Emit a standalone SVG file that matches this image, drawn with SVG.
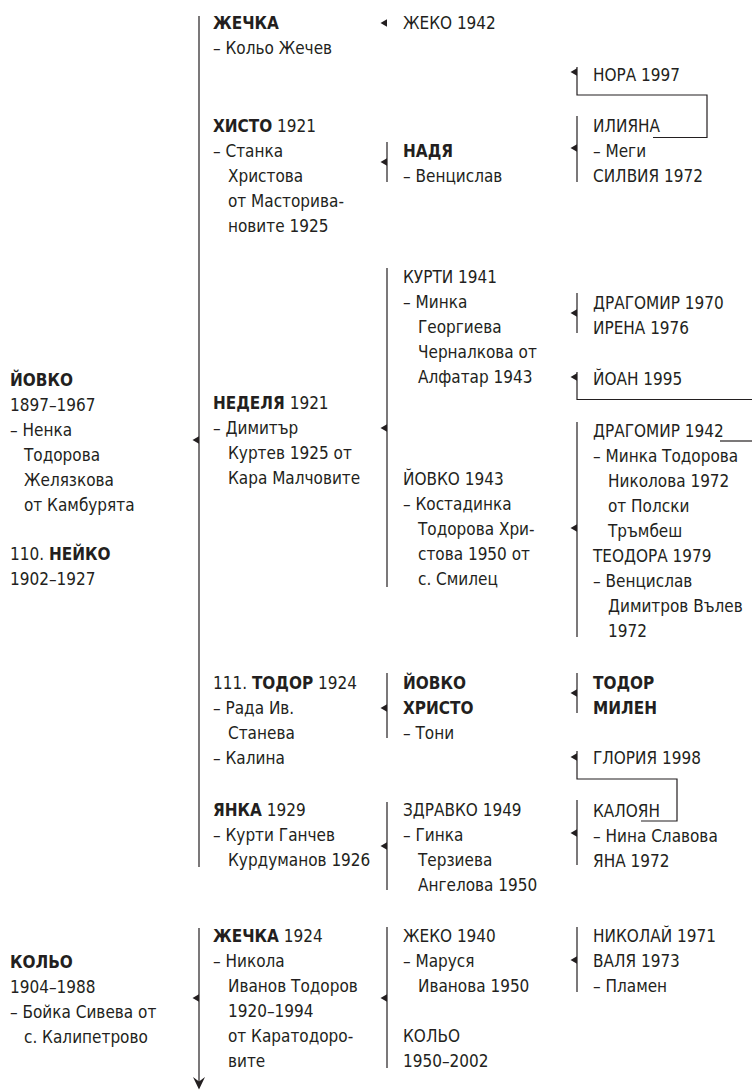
<svg xmlns="http://www.w3.org/2000/svg" xmlns:xlink="http://www.w3.org/1999/xlink" width="752" height="1090" viewBox="0 0 752 1090">
<style>
text{font-family:"Liberation Sans Narrow","DejaVu Sans Condensed","Liberation Sans",sans-serif;font-size:17px;fill:#231f20}
.b{font-weight:bold}
.ln{fill:none;stroke:#231f20;stroke-width:1.2}
.ar{fill:#231f20}
</style>
<defs>
<path id="tri" d="M0,-3.8 L0,3.8 L-6.5,0 Z"/>
</defs>
<rect width="752" height="1090" fill="#fff"/>
<g id="connectors">
<path class="ln" d="M199,16 V867"/>
<path class="ln" d="M199,928 V1082"/>
<polygon class="ar" points="199,1089.5 193,1077 199,1081.5 205,1077"/>
<path class="ln" d="M387,142 V182"/>
<path class="ln" d="M387,268 V587"/>
<path class="ln" d="M387,673 V738"/>
<path class="ln" d="M387,802 V890"/>
<path class="ln" d="M387,927 V1068"/>
<path class="ln" d="M577,67 V95 H707 V137.5 H653"/>
<path class="ln" d="M577,116 V182"/>
<path class="ln" d="M577,293 V333"/>
<path class="ln" d="M577,372 V399.5 H752"/>
<path class="ln" d="M577,422 V637"/>
<path class="ln" d="M720,441 H752"/>
<path class="ln" d="M577,673 V713"/>
<path class="ln" d="M577,751 V779 H677 V821 H641"/>
<path class="ln" d="M577,800 V865"/>
<path class="ln" d="M577,927 V992"/>
<g class="ar">
<use xlink:href="#tri" x="199" y="440"/>
<use xlink:href="#tri" x="199" y="998"/>
<use xlink:href="#tri" x="387" y="23"/>
<use xlink:href="#tri" x="387" y="162"/>
<use xlink:href="#tri" x="387" y="428"/>
<use xlink:href="#tri" x="387" y="708"/>
<use xlink:href="#tri" x="387" y="846"/>
<use xlink:href="#tri" x="387" y="998"/>
<use xlink:href="#tri" x="577" y="72"/>
<use xlink:href="#tri" x="577" y="148"/>
<use xlink:href="#tri" x="577" y="313"/>
<use xlink:href="#tri" x="577" y="377"/>
<use xlink:href="#tri" x="577" y="528"/>
<use xlink:href="#tri" x="577" y="693"/>
<use xlink:href="#tri" x="577" y="757"/>
<use xlink:href="#tri" x="577" y="833"/>
<use xlink:href="#tri" x="577" y="960"/>
</g>
</g>
<g id="yovko">
<text x="10" y="386" class="b">ЙОВКО</text>
<text x="10" y="411">1897–1967</text>
<text x="10" y="436">– Ненка</text>
<text x="24" y="461">Тодорова</text>
<text x="24" y="486">Желязкова</text>
<text x="24" y="511">от Камбурята</text>
</g>
<g id="neyko">
<text x="10" y="560">110. <tspan class="b">НЕЙКО</tspan></text>
<text x="10" y="585">1902–1927</text>
</g>
<g id="kolyo">
<text x="10" y="968" class="b">КОЛЬО</text>
<text x="10" y="993">1904–1988</text>
<text x="10" y="1018">– Бойка Сивева от</text>
<text x="24" y="1043">с. Калипетрово</text>
</g>
<g id="zhechka">
<text x="213" y="28.5" class="b">ЖЕЧКА</text>
<text x="213" y="53.5">– Кольо Жечев</text>
</g>
<g id="histo">
<text x="213" y="131.5"><tspan class="b">ХИСТО</tspan> 1921</text>
<text x="213" y="156.5">– Станка</text>
<text x="228" y="181.5">Христова</text>
<text x="228" y="206.5">от Масторива-</text>
<text x="228" y="231.5">новите 1925</text>
</g>
<g id="nedelya">
<text x="213" y="409"><tspan class="b">НЕДЕЛЯ</tspan> 1921</text>
<text x="213" y="434">– Димитър</text>
<text x="228" y="459">Куртев 1925 от</text>
<text x="228" y="484">Кара Малчовите</text>
</g>
<g id="todor">
<text x="213" y="689">111. <tspan class="b">ТОДОР</tspan> 1924</text>
<text x="213" y="714">– Рада Ив.</text>
<text x="228" y="739">Станева</text>
<text x="213" y="764">– Калина</text>
</g>
<g id="yanka">
<text x="213" y="816"><tspan class="b">ЯНКА</tspan> 1929</text>
<text x="213" y="841">– Курти Ганчев</text>
<text x="228" y="866">Курдуманов 1926</text>
</g>
<g id="zhechka1924">
<text x="213" y="942"><tspan class="b">ЖЕЧКА</tspan> 1924</text>
<text x="213" y="967">– Никола</text>
<text x="228" y="992">Иванов Тодоров</text>
<text x="228" y="1017">1920–1994</text>
<text x="228" y="1042">от Каратодоро-</text>
<text x="228" y="1067">вите</text>
</g>
<g id="zheko1942">
<text x="403" y="29">ЖЕКО 1942</text>
</g>
<g id="nadya">
<text x="403" y="157" class="b">НАДЯ</text>
<text x="403" y="182">– Венцислав</text>
</g>
<g id="kurti">
<text x="403" y="283">КУРТИ 1941</text>
<text x="403" y="308">– Минка</text>
<text x="418" y="333">Георгиева</text>
<text x="418" y="358">Черналкова от</text>
<text x="418" y="383">Алфатар 1943</text>
</g>
<g id="yovko1943">
<text x="403" y="485">ЙОВКО 1943</text>
<text x="403" y="510">– Костадинка</text>
<text x="418" y="535">Тодорова Хри-</text>
<text x="418" y="560">стова 1950 от</text>
<text x="418" y="585">с. Смилец</text>
</g>
<g id="yovko-hristo">
<text x="403" y="689" class="b">ЙОВКО</text>
<text x="403" y="714" class="b">ХРИСТО</text>
<text x="403" y="739">– Тони</text>
</g>
<g id="zdravko">
<text x="403" y="816">ЗДРАВКО 1949</text>
<text x="403" y="841">– Гинка</text>
<text x="418" y="866">Терзиева</text>
<text x="418" y="891">Ангелова 1950</text>
</g>
<g id="zheko1940">
<text x="403" y="942">ЖЕКО 1940</text>
<text x="403" y="967">– Маруся</text>
<text x="418" y="992">Иванова 1950</text>
</g>
<g id="kolyo1950">
<text x="403" y="1042">КОЛЬО</text>
<text x="403" y="1067">1950–2002</text>
</g>
<g id="nora">
<text x="593" y="81">НОРА 1997</text>
</g>
<g id="iliyana">
<text x="593" y="132">ИЛИЯНА</text>
<text x="593" y="157">– Меги</text>
<text x="593" y="182">СИЛВИЯ 1972</text>
</g>
<g id="dragomir1970">
<text x="593" y="309">ДРАГОМИР 1970</text>
<text x="593" y="334">ИРЕНА 1976</text>
</g>
<g id="yoan">
<text x="593" y="385">ЙОАН 1995</text>
</g>
<g id="dragomir1942">
<text x="593" y="437">ДРАГОМИР 1942</text>
<text x="593" y="462">– Минка Тодорова</text>
<text x="608" y="487">Николова 1972</text>
<text x="608" y="512">от Полски</text>
<text x="608" y="537">Тръмбеш</text>
<text x="593" y="562">ТЕОДОРА 1979</text>
<text x="593" y="587">– Венцислав</text>
<text x="608" y="612">Димитров Вълев</text>
<text x="608" y="637">1972</text>
</g>
<g id="todor-milen">
<text x="593" y="689" class="b">ТОДОР</text>
<text x="593" y="714" class="b">МИЛЕН</text>
</g>
<g id="gloria">
<text x="593" y="764">ГЛОРИЯ 1998</text>
</g>
<g id="kaloyan">
<text x="593" y="817">КАЛОЯН</text>
<text x="593" y="842">– Нина Славова</text>
<text x="593" y="867">ЯНА 1972</text>
</g>
<g id="nikolay">
<text x="593" y="942">НИКОЛАЙ 1971</text>
<text x="593" y="967">ВАЛЯ 1973</text>
<text x="593" y="992">– Пламен</text>
</g>
</svg>
